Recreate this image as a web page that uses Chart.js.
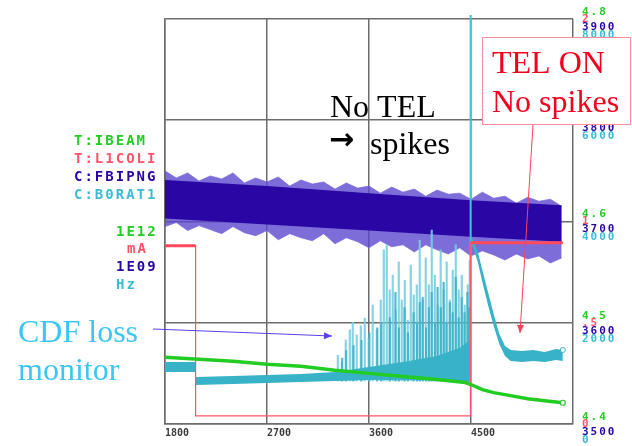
<!DOCTYPE html>
<html>
<head>
<meta charset="utf-8">
<script src="https://cdn.jsdelivr.net/npm/chart.js@4.4.0/dist/chart.umd.min.js"></script>
<style>
  html, body { margin: 0; padding: 0; background: #fff; }
  #wrap { width: 632px; height: 446px; }
</style>
</head>
<body>
<div id="wrap"><canvas id="c" width="632" height="446"></canvas></div>
<script>
// --- data ---
const xTicks = [1800, 2700, 3600, 4500, 5400];

// T:IBEAM (green, 1E12)
const greenX = [1800, 2100, 2400, 2700, 3000, 3300, 3600, 3900, 4200, 4450, 4500, 4600, 4700, 4800, 5000, 5150, 5310];
const greenY = [4.466, 4.464, 4.462, 4.459, 4.457, 4.453, 4.450, 4.447, 4.444, 4.441, 4.439, 4.434, 4.431, 4.429, 4.425, 4.423, 4.421];

// T:L1COLI (red, mA)
const redX = [1800, 2070, 2070, 4495, 4495, 5310];
const redY = [0.88, 0.88, 0.04, 0.04, 0.895, 0.895];

// C:FBIPNG (purple, 1E09) - noisy band: outer envelope of the noise
const purpleX = [1800, 1900, 2000, 2100, 2200, 2300, 2400, 2500, 2600, 2700, 2800, 2900, 3000, 3100, 3200, 3300, 3400, 3500,
                 3600, 3700, 3800, 3900, 4000, 4100, 4200, 4300, 4400, 4500, 4600, 4700, 4800, 4900, 5000, 5100, 5200, 5300];
const purpleHigh = [3750, 3743, 3748, 3740, 3745, 3742, 3748, 3738, 3743, 3739, 3744, 3735, 3741, 3737, 3739, 3732, 3738, 3733,
                    3735, 3728, 3734, 3729, 3732, 3725, 3731, 3727, 3728, 3722, 3729, 3723, 3725, 3718, 3724, 3720, 3722, 3715];
const purpleLow = [3695, 3699, 3691, 3696, 3692, 3688, 3695, 3689, 3686, 3691, 3682, 3688, 3684, 3681, 3688, 3678, 3684, 3680,
                   3674, 3681, 3675, 3677, 3670, 3677, 3672, 3668, 3674, 3666, 3671, 3667, 3662, 3668, 3663, 3666, 3659, 3664];
// dense core of the purple band
const coreX = [1800, 2700, 3600, 4500, 5300];
const coreTop = [3741, 3735, 3728, 3721, 3716];
const coreBottom = [3703, 3697, 3691, 3685, 3680];

// C:B0RAT1 (cyan, Hz) - base band before TEL
const cyanX = [1800, 2068, 2072, 2400, 2700, 3000, 3300, 3600, 3900, 4200, 4400, 4490];
const cyanHigh = [1225, 1225, 928, 948, 968, 988, 1027, 1126, 1225, 1343, 1501, 1659];
const cyanLow = [1027, 1027, 770, 790, 810, 830, 849, 869, 869, 869, 849, 830];
// jump when TEL switched on
const jumpX = [4497, 4497];
const jumpY = [830, 8300];
// after TEL on
const cyanRX = [4505, 4520, 4560, 4600, 4650, 4700, 4750, 4800, 4850, 4950, 5050, 5150, 5250, 5310];
const cyanRHigh = [3674, 3635, 3398, 3042, 2607, 2173, 1778, 1541, 1462, 1442, 1462, 1422, 1481, 1462];
const cyanRLow = [3556, 3477, 3200, 2805, 2351, 1936, 1580, 1343, 1244, 1225, 1244, 1225, 1264, 1244];
// loss spikes
const spikeBase = 850;
const spikeX = [3318, 3353, 3388, 3424, 3450, 3485, 3521, 3556, 3591, 3626, 3662, 3697, 3724, 3750, 3776, 3803, 3829, 3856, 3882, 3909, 3935,
                3962, 3988, 4015, 4041, 4068, 4094, 4121, 4147, 4174, 4200, 4226, 4253, 4279, 4306, 4332, 4359, 4385, 4412, 4438, 4465, 4482];
const spikeTop = [1360, 1230, 1660, 1860, 2010, 1760, 1940, 2090, 1700, 2350, 1860, 2450, 3440, 3540, 2650, 2940, 2250, 3200, 2450, 2840, 2050,
                  3140, 2550, 2750, 3630, 2450, 3280, 2750, 3830, 2940, 2350, 3440, 2650, 3200, 2450, 3040, 3540, 2650, 2940, 2350, 2750, 3240];
const spike2X = [3370, 3405, 3470, 3540, 3610, 3680, 3715, 3790, 3840, 3870, 3920, 3950, 4000, 4030, 4055, 4080, 4110, 4135, 4160, 4190,
                 4212, 4240, 4265, 4290, 4320, 4345, 4372, 4398, 4425, 4450, 4475, 4490];
const spike2Top = [1300, 1450, 1550, 1650, 1800, 1900, 2000, 2100, 2600, 1900, 2300, 1800, 2200, 2000, 2400, 2500, 1900, 2300, 2600, 2000,
                   2700, 2300, 2800, 2000, 2400, 2200, 2900, 2100, 2500, 2200, 2600, 2300];

// right hand scale labels, one list per channel
const greenTicks = ['4.4', '4.5', '4.6', '4.7', '4.8'];
const redTicks = ['0', '.5', '1', '1.5', '2'];
const purpleTicks = ['3500', '3600', '3700', '3800', '3900'];
const cyanTicks = ['0', '2000', '4000', '6000', '8000'];
const tickLevels = [4.4, 4.5, 4.6, 4.7, 4.8];

const channelNames = ['T:IBEAM', 'T:L1COLI', 'C:FBIPNG', 'C:B0RAT1'];
const channelUnits = ['1E12', 'mA', '1E09', 'Hz'];

const GREEN = '#22cc22';
const RED = '#ff5468';
const PURPLE = '#2a06a4';
const CYAN = '#38b2c6';
const COLORS = [GREEN, RED, PURPLE, '#3cbcd4'];

const pts = (xs, ys) => xs.map((x, i) => ({ x, y: ys[i] }));
const lastDot = (n) => (ctx) => ctx.dataIndex === n - 1 ? 2.5 : 0;

// --- labels & annotations drawn on top ---
const overlay = {
    id: 'overlay',
    afterDraw(chart) {
        const ctx = chart.ctx;
        const yG = chart.scales.yG;
        ctx.save();

        // right stacked scale labels
        ctx.font = 'bold 11px "DejaVu Sans Mono"';
        ctx.letterSpacing = '2px';
        ctx.textBaseline = 'middle';
        ctx.textAlign = 'left';
        const lists = [greenTicks, redTicks, purpleTicks, cyanTicks];
        const offs = [-7, 0, 8, 16];
        tickLevels.forEach((lv, i) => {
            const py = yG.getPixelForValue(lv);
            lists.forEach((list, k) => {
                ctx.fillStyle = COLORS[k];
                ctx.fillText(list[i], 582, py + offs[k]);
            });
        });

        // channel names on the left
        ctx.font = 'bold 14px "DejaVu Sans Mono"';
        channelNames.forEach((n, k) => {
            ctx.fillStyle = COLORS[k];
            ctx.fillText(n, 74, 141 + k * 18);
        });
        const unitX = [116, 127, 116, 116];
        channelUnits.forEach((u, k) => {
            ctx.fillStyle = COLORS[k];
            ctx.fillText(u, unitX[k], 232 + k * 17.7);
        });
        ctx.letterSpacing = '0px';

        // "No TEL -> spikes"
        ctx.textBaseline = 'alphabetic';
        ctx.fillStyle = '#000';
        ctx.font = '32px "Liberation Serif"';
        ctx.fillText('No TEL', 330, 117);
        ctx.fillText('spikes', 370, 154);
        ctx.font = 'bold 30px "DejaVu Sans"';
        ctx.textBaseline = 'middle';
        ctx.fillText('\u2192', 329, 141);

        // red box
        ctx.fillStyle = '#fff';
        ctx.fillRect(482, 37, 149, 88);
        ctx.strokeStyle = '#ff8c9a';
        ctx.lineWidth = 1;
        ctx.strokeRect(482.5, 37.5, 148, 87);
        ctx.textBaseline = 'alphabetic';
        ctx.fillStyle = '#f4001e';
        ctx.font = '32px "Liberation Serif"';
        ctx.fillText('TEL ON', 492, 73);
        ctx.fillText('No spikes', 492, 112);
        arrow(ctx, 533, 125, 520, 333, '#ff4058');

        // CDF loss monitor
        ctx.fillStyle = '#3cc6f4';
        ctx.fillText('CDF loss', 18, 342);
        ctx.fillText('monitor', 18, 380);
        arrow(ctx, 153, 329, 332, 336, '#5a40f0');

        ctx.restore();
    }
};

function arrow(ctx, x1, y1, x2, y2, color) {
    const a = Math.atan2(y2 - y1, x2 - x1);
    ctx.strokeStyle = color;
    ctx.fillStyle = color;
    ctx.lineWidth = 1;
    ctx.beginPath();
    ctx.moveTo(x1, y1);
    ctx.lineTo(x2, y2);
    ctx.stroke();
    ctx.beginPath();
    ctx.moveTo(x2, y2);
    ctx.lineTo(x2 - 8 * Math.cos(a) + 3.5 * Math.sin(a), y2 - 8 * Math.sin(a) - 3.5 * Math.cos(a));
    ctx.lineTo(x2 - 8 * Math.cos(a) - 3.5 * Math.sin(a), y2 - 8 * Math.sin(a) + 3.5 * Math.cos(a));
    ctx.closePath();
    ctx.fill();
}

const edge = { borderWidth: 0, pointRadius: 0, borderColor: 'rgba(0,0,0,0)' };
const FRINGE = 'rgba(92,72,208,0.8)';

const datasets = [
    { data: pts(purpleX, purpleHigh), yAxisID: 'yP', fill: '+1', backgroundColor: FRINGE,
      borderColor: 'rgba(120,100,220,0.7)', borderWidth: 1, pointRadius: 0 },
    { data: pts(purpleX, purpleLow), yAxisID: 'yP', borderColor: 'rgba(120,100,220,0.7)', borderWidth: 1, pointRadius: 0 },
    { ...edge, data: pts(coreX, coreTop), yAxisID: 'yP', fill: '+1', backgroundColor: PURPLE },
    { ...edge, data: pts(coreX, coreBottom), yAxisID: 'yP' },
    { type: 'bar', data: spikeX.map((x, i) => ({ x, y: [spikeBase, spikeTop[i]] })), yAxisID: 'yC',
      backgroundColor: 'rgba(120,206,224,0.9)', barThickness: 1.5 },
    { type: 'bar', data: spike2X.map((x, i) => ({ x, y: [spikeBase, spike2Top[i]] })), yAxisID: 'yC',
      backgroundColor: 'rgba(62,178,200,0.9)', barThickness: 1.5 },
    { ...edge, data: pts(cyanX, cyanHigh), yAxisID: 'yC', fill: '+1', backgroundColor: CYAN },
    { ...edge, data: pts(cyanX, cyanLow), yAxisID: 'yC' },
    { data: pts(jumpX, jumpY), yAxisID: 'yC', borderColor: '#46c2d6', borderWidth: 2, pointRadius: 0, clip: 4 },
    { ...edge, data: pts(cyanRX, cyanRHigh), yAxisID: 'yC', fill: '+1', backgroundColor: CYAN,
      pointRadius: lastDot(cyanRX.length), pointBackgroundColor: '#fff', pointBorderColor: CYAN, pointBorderWidth: 1 },
    { ...edge, data: pts(cyanRX, cyanRLow), yAxisID: 'yC' },
    { data: pts(redX, redY), yAxisID: 'yR', borderColor: RED, borderWidth: 1.2, pointRadius: 0 },
    { data: [{ x: 1800, y: 0.88 }, { x: 2070, y: 0.88 }, { x: 3000, y: null }, { x: 4495, y: 0.895 }, { x: 5310, y: 0.895 }],
      yAxisID: 'yR', borderColor: '#ff4a5c', borderWidth: 3, pointRadius: 0, spanGaps: false },
    { data: pts(greenX, greenY), yAxisID: 'yG', borderColor: GREEN, borderWidth: 3.5,
      pointRadius: lastDot(greenX.length), pointBackgroundColor: '#fff', pointBorderColor: GREEN, pointBorderWidth: 1.2 }
];
datasets.forEach((d, i) => { d.order = 30 - i; if (!d.type) d.tension = 0; });

const gridColor = '#6c6c6c';
const hidden = (min, max) => ({ type: 'linear', display: false, min, max });

new Chart(document.getElementById('c'), {
    type: 'line',
    data: { datasets },
    options: {
        responsive: false,
        animation: false,
        devicePixelRatio: 1,
        layout: { padding: { left: 165, right: 59, top: 19, bottom: 4 } },
        plugins: { legend: { display: false }, tooltip: { enabled: false } },
        scales: {
            x: {
                type: 'linear', min: 1800, max: 5400, offset: false,
                afterBuildTicks: (s) => { s.ticks = xTicks.map(v => ({ value: v })); },
                ticks: {
                    align: 'start', autoSkip: false, maxRotation: 0, padding: 3,
                    color: '#3c3c3c', font: { family: 'DejaVu Sans Mono', size: 10, weight: 'bold' },
                    callback: (v) => v === 5400 ? '' : String(v)
                },
                grid: { color: gridColor, lineWidth: 1.5, drawTicks: false, offset: false },
                border: { color: gridColor, width: 1.5 }
            },
            yG: {
                type: 'linear', position: 'left', min: 4.4, max: 4.8,
                afterBuildTicks: (s) => { s.ticks = tickLevels.map(v => ({ value: v })); },
                ticks: { display: false },
                grid: { color: gridColor, lineWidth: 1.5, drawTicks: false },
                border: { color: gridColor, width: 1.5 }
            },
            yR: hidden(0, 2),
            yP: hidden(3500, 3900),
            yC: hidden(0, 8000)
        }
    },
    plugins: [overlay]
});
</script>
</body>
</html>
